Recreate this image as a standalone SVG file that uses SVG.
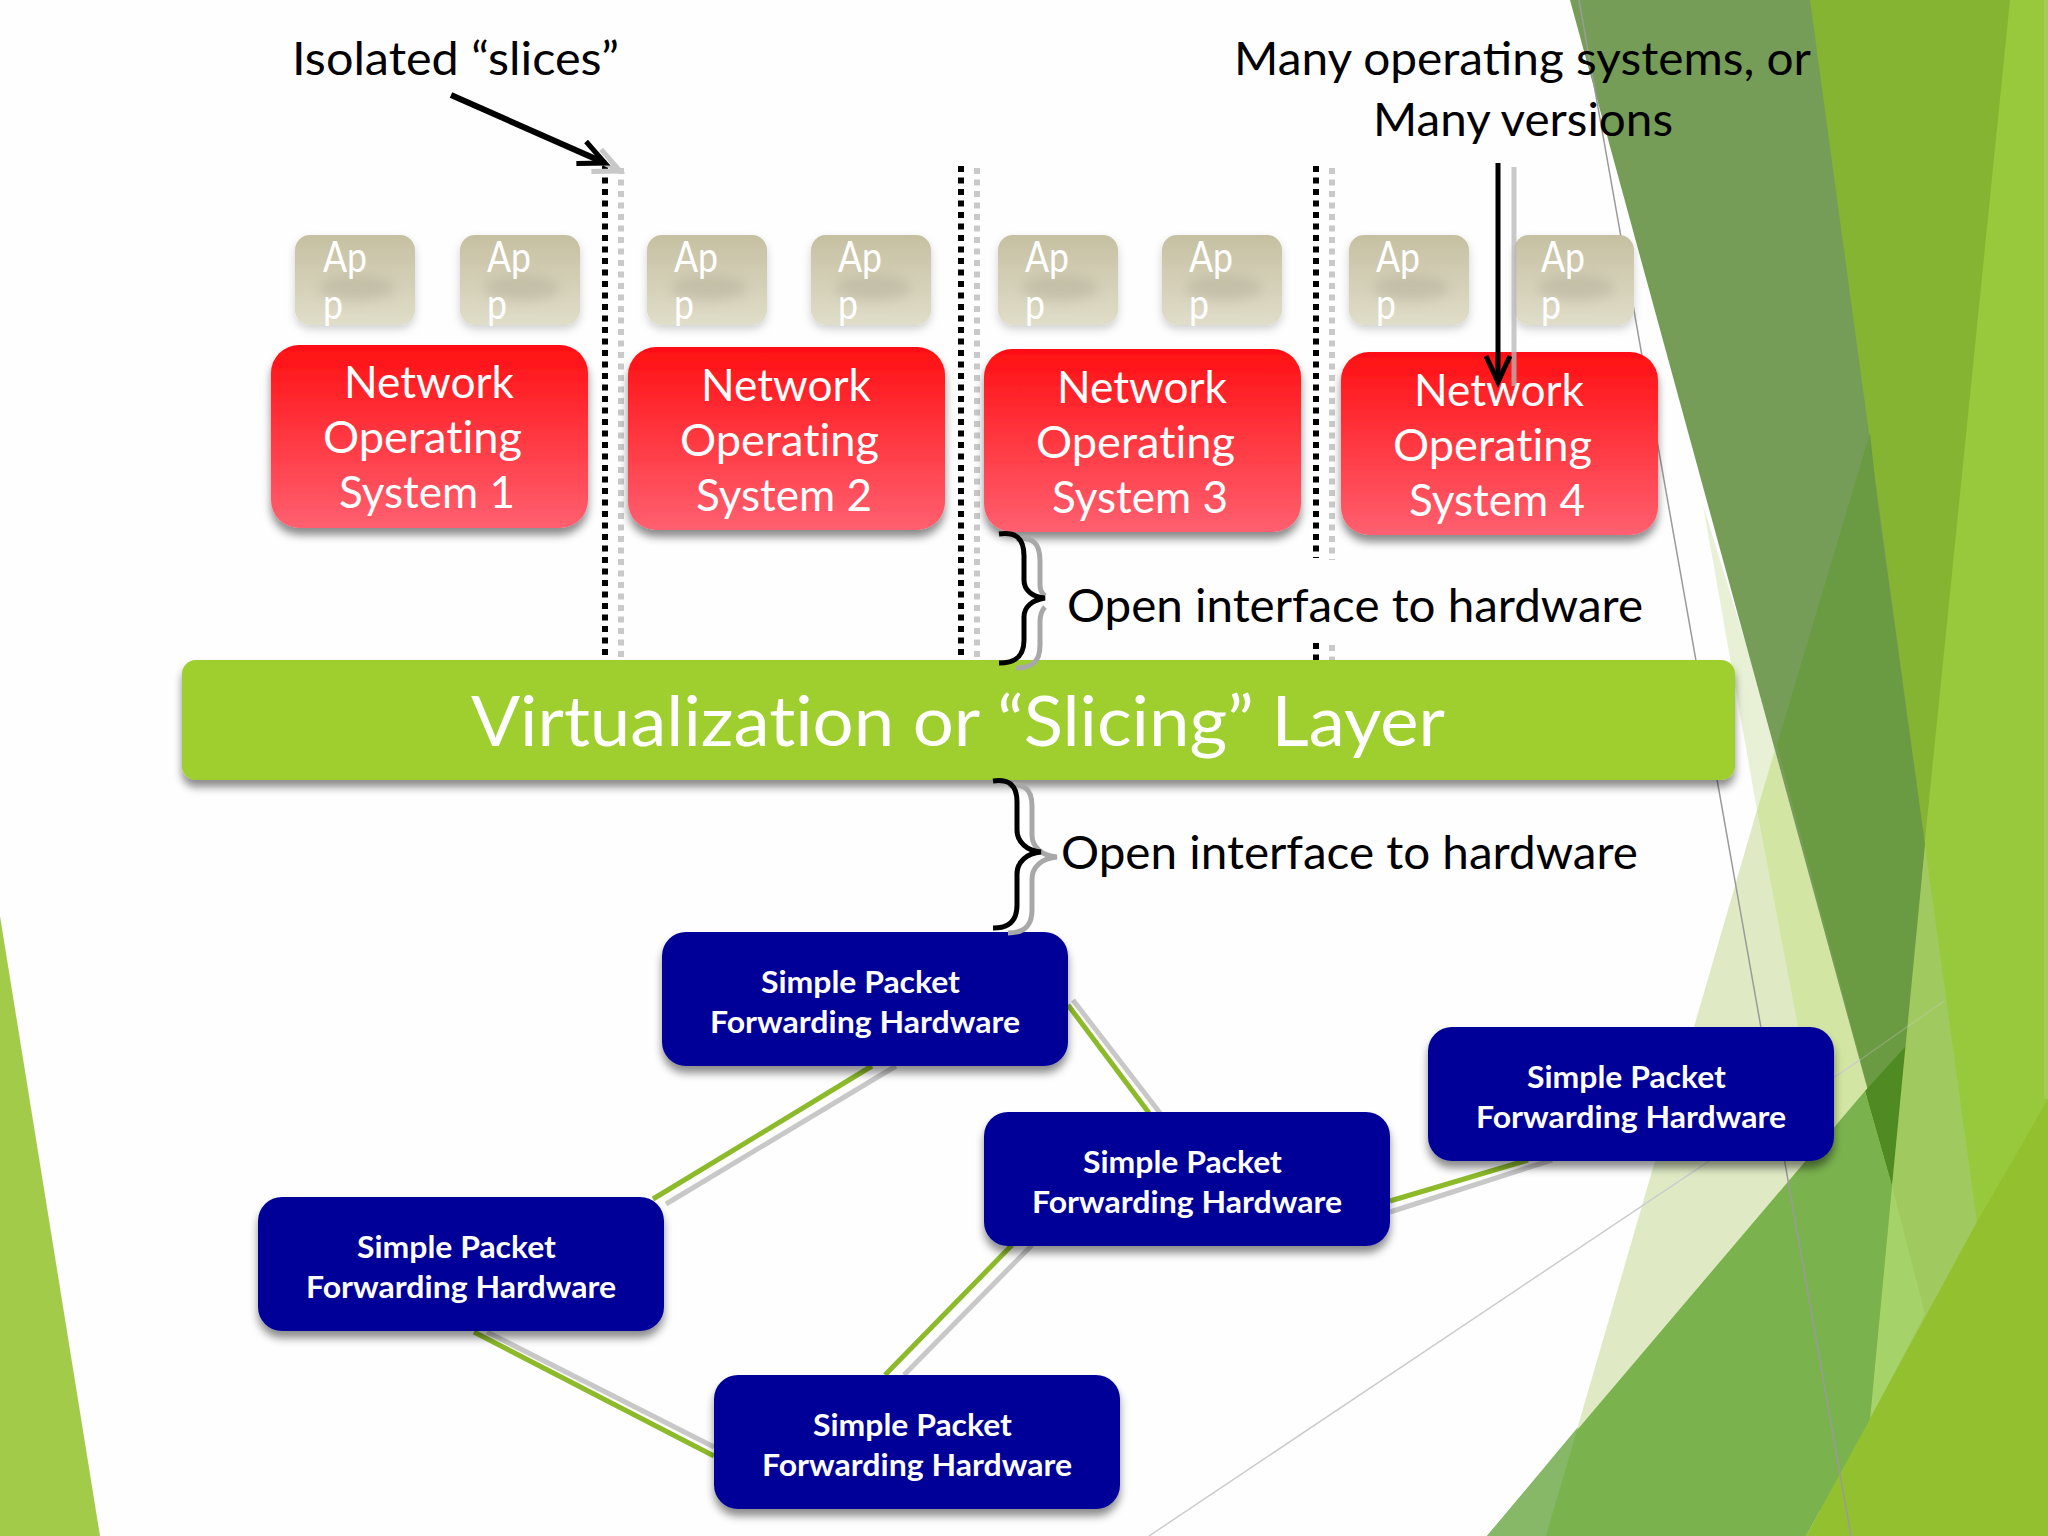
<svg xmlns="http://www.w3.org/2000/svg" width="2048" height="1536" viewBox="0 0 2048 1536">
<style>
text{font-family:"Lato","Liberation Sans",sans-serif}
.ann{font-size:47px;fill:#000}
.nos{font-size:44px;fill:#fff;font-variant-ligatures:none}
.app{font-size:43px;fill:#fff}
.hw{font-size:31px;font-weight:700;fill:#fff;font-variant-ligatures:none}
.appbox{fill:url(#appGrad);filter:url(#softShadow)}
.nosbox{fill:url(#redGrad);filter:url(#shadow)}
.hwbox{fill:#000099;filter:url(#shadow)}
.ghost{fill:#a5a08a;opacity:.35;filter:url(#blur)}
.bk{stroke:#000;stroke-width:6;stroke-dasharray:6 5.5;fill:none}
.gy{stroke:#c9c9c9;stroke-width:6;stroke-dasharray:6 5.5;fill:none}
.lg{stroke:#c8c8c8;stroke-width:5;fill:none}
.lk{stroke:#8cba2a;stroke-width:5;fill:none}
.br{stroke:#000;stroke-width:5;fill:none}
.brg{stroke:#a8a8a8;stroke-width:5;fill:none}
</style>
<defs>
<linearGradient id="redGrad" x1="0" y1="0" x2="0" y2="1"><stop offset="0" stop-color="#ff0f12"/><stop offset="1" stop-color="#ff6070"/></linearGradient>
<linearGradient id="appGrad" x1="0" y1="0" x2="0" y2="1"><stop offset="0" stop-color="#c6c0a2"/><stop offset="1" stop-color="#e0ddc9"/></linearGradient>
<filter id="shadow" x="-10%" y="-20%" width="120%" height="140%"><feDropShadow dx="0" dy="7" stdDeviation="4" flood-color="#000" flood-opacity=".45"/></filter>
<filter id="softShadow" x="-10%" y="-20%" width="120%" height="140%"><feDropShadow dx="0" dy="4" stdDeviation="4" flood-color="#000" flood-opacity=".18"/></filter>
<filter id="blur" x="-30%" y="-60%" width="160%" height="220%"><feGaussianBlur stdDeviation="6"/></filter>
<marker id="open" markerUnits="userSpaceOnUse" markerWidth="40" markerHeight="40" viewBox="-30 -20 40 40" refX="0" refY="0" orient="auto"><path d="M-26 -12L0 0L-26 12" fill="none" stroke="#000" stroke-width="5"/></marker>
<marker id="openG" markerUnits="userSpaceOnUse" markerWidth="40" markerHeight="40" viewBox="-30 -20 40 40" refX="0" refY="0" orient="auto"><path d="M-26 -12L0 0L-26 12" fill="none" stroke="#c8c8c8" stroke-width="5"/></marker>
</defs>

<g id="background">
<rect width="2048" height="1536" fill="#fefefe"/>
<polygon points="0,916 100,1536 0,1536" fill="#a3cb4a"/>
<polygon points="1800,0 2048,0 2048,1536 1800,1536" fill="#98c83c"/>
<polygon points="2044,0 2048,0 2048,1099 2044,1099" fill="#a2cd50"/>
<polygon points="1703,505 1757,810 1777,745" fill="#e8f0d5"/>
<polygon points="1757,810 1546,1536 1820,1536 1820,810" fill="#dfeac4"/>
<polygon points="1757,810 1775,750 1870,1096 1820,1143" fill="#d2e5a2"/>
<polygon points="1800,0 2010,0 1925,840 1800,840" fill="#85b432"/>
<polygon points="1570,0 1810,0 1925,845 1894,1186" fill="#769d58"/>
<polygon points="1777,745 1870,433 1877,500 1925,845 1894,1186" fill="#6a9a42"/>
<polygon points="1865,1091 1906,1046 1892,1186" fill="#4f8a22"/>
<polygon points="1925,845 1977,1222 1870,1419 1892,1186" fill="#a0ca60"/>
<polygon points="1892,1186 1925,1314 1870,1419" fill="#a6d26a"/>
<polygon points="1806,1536 1977,1222 2048,1099 2048,1536" fill="#93c02f"/>
<polygon points="1487,1536 1865,1091 1892,1186 1870,1419 1806,1536" fill="#7ab24e"/>
<polygon points="1487,1536 1546,1536 1578,1427" fill="#87b868"/>
<line x1="1579" y1="0" x2="1851" y2="1536" stroke="#9a9a9a" stroke-width="1.5"/>
<line x1="1149" y1="1536" x2="1860" y2="1060" stroke="#cccccc" stroke-width="1.5"/>
<line x1="1860" y1="1060" x2="1944" y2="1001" stroke="#cccccc" stroke-width="1.5" opacity=".3"/>
</g>

<g id="connectors">
<line class="lg" x1="896" y1="1066" x2="666" y2="1204"/>
<line class="lk" x1="872" y1="1066" x2="653" y2="1199"/>
<line class="lg" x1="1073" y1="1000" x2="1160" y2="1113"/>
<line class="lk" x1="1068" y1="1005" x2="1149" y2="1113"/>
<line class="lg" x1="1032" y1="1245" x2="904" y2="1375"/>
<line class="lk" x1="1012" y1="1245" x2="885" y2="1375"/>
<line class="lg" x1="1390" y1="1212" x2="1552" y2="1160"/>
<line class="lk" x1="1390" y1="1201" x2="1528" y2="1160"/>
<line class="lg" x1="487" y1="1332" x2="714" y2="1447"/>
<line class="lk" x1="474" y1="1332" x2="714" y2="1456"/>
<line class="gy" x1="621" y1="168" x2="621" y2="660"/>
<line class="bk" x1="605" y1="166" x2="605" y2="660"/>
<line class="gy" x1="977" y1="168" x2="977" y2="660"/>
<line class="bk" x1="961" y1="166" x2="961" y2="660"/>
<line class="gy" x1="1332" y1="168" x2="1332" y2="560"/>
<line class="bk" x1="1316" y1="166" x2="1316" y2="558"/>
<line class="gy" x1="1332" y1="645" x2="1332" y2="662"/>
<line class="bk" x1="1316" y1="643" x2="1316" y2="660"/>
</g>

<g id="app1"><rect class="appbox" x="295" y="235" width="120" height="90" rx="15"/><ellipse class="ghost" cx="357" cy="288" rx="38" ry="13"/><text class="app" x="323" y="272" textLength="44" lengthAdjust="spacingAndGlyphs">Ap</text><text class="app" x="323" y="319" textLength="20" lengthAdjust="spacingAndGlyphs">p</text></g>
<g id="app2"><rect class="appbox" x="460" y="235" width="120" height="90" rx="15"/><ellipse class="ghost" cx="522" cy="288" rx="38" ry="13"/><text class="app" x="487" y="272" textLength="44" lengthAdjust="spacingAndGlyphs">Ap</text><text class="app" x="487" y="319" textLength="20" lengthAdjust="spacingAndGlyphs">p</text></g>
<g id="app3"><rect class="appbox" x="647" y="235" width="120" height="90" rx="15"/><ellipse class="ghost" cx="709" cy="288" rx="38" ry="13"/><text class="app" x="674" y="272" textLength="44" lengthAdjust="spacingAndGlyphs">Ap</text><text class="app" x="674" y="319" textLength="20" lengthAdjust="spacingAndGlyphs">p</text></g>
<g id="app4"><rect class="appbox" x="811" y="235" width="120" height="90" rx="15"/><ellipse class="ghost" cx="873" cy="288" rx="38" ry="13"/><text class="app" x="838" y="272" textLength="44" lengthAdjust="spacingAndGlyphs">Ap</text><text class="app" x="838" y="319" textLength="20" lengthAdjust="spacingAndGlyphs">p</text></g>
<g id="app5"><rect class="appbox" x="998" y="235" width="120" height="90" rx="15"/><ellipse class="ghost" cx="1060" cy="288" rx="38" ry="13"/><text class="app" x="1025" y="272" textLength="44" lengthAdjust="spacingAndGlyphs">Ap</text><text class="app" x="1025" y="319" textLength="20" lengthAdjust="spacingAndGlyphs">p</text></g>
<g id="app6"><rect class="appbox" x="1162" y="235" width="120" height="90" rx="15"/><ellipse class="ghost" cx="1224" cy="288" rx="38" ry="13"/><text class="app" x="1189" y="272" textLength="44" lengthAdjust="spacingAndGlyphs">Ap</text><text class="app" x="1189" y="319" textLength="20" lengthAdjust="spacingAndGlyphs">p</text></g>
<g id="app7"><rect class="appbox" x="1349" y="235" width="120" height="90" rx="15"/><ellipse class="ghost" cx="1411" cy="288" rx="38" ry="13"/><text class="app" x="1376" y="272" textLength="44" lengthAdjust="spacingAndGlyphs">Ap</text><text class="app" x="1376" y="319" textLength="20" lengthAdjust="spacingAndGlyphs">p</text></g>
<g id="app8"><rect class="appbox" x="1514" y="235" width="120" height="90" rx="15"/><ellipse class="ghost" cx="1576" cy="288" rx="38" ry="13"/><text class="app" x="1541" y="272" textLength="44" lengthAdjust="spacingAndGlyphs">Ap</text><text class="app" x="1541" y="319" textLength="20" lengthAdjust="spacingAndGlyphs">p</text></g>

<g id="nos1"><rect class="nosbox" x="271" y="345" width="317" height="183" rx="28"/><text class="nos" x="344" y="398" textLength="170" lengthAdjust="spacingAndGlyphs">Network</text><text class="nos" x="323" y="453" textLength="199" lengthAdjust="spacingAndGlyphs">Operating</text><text class="nos" x="339" y="508" textLength="176" lengthAdjust="spacingAndGlyphs">System 1</text></g>
<g id="nos2"><rect class="nosbox" x="628" y="347" width="317" height="183" rx="28"/><text class="nos" x="701" y="401" textLength="170" lengthAdjust="spacingAndGlyphs">Network</text><text class="nos" x="680" y="456" textLength="199" lengthAdjust="spacingAndGlyphs">Operating</text><text class="nos" x="696" y="511" textLength="176" lengthAdjust="spacingAndGlyphs">System 2</text></g>
<g id="nos3"><rect class="nosbox" x="984" y="349" width="317" height="183" rx="28"/><text class="nos" x="1057" y="403" textLength="170" lengthAdjust="spacingAndGlyphs">Network</text><text class="nos" x="1036" y="458" textLength="199" lengthAdjust="spacingAndGlyphs">Operating</text><text class="nos" x="1052" y="513" textLength="176" lengthAdjust="spacingAndGlyphs">System 3</text></g>
<g id="nos4"><rect class="nosbox" x="1341" y="352" width="317" height="183" rx="28"/><text class="nos" x="1414" y="406" textLength="170" lengthAdjust="spacingAndGlyphs">Network</text><text class="nos" x="1393" y="461" textLength="199" lengthAdjust="spacingAndGlyphs">Operating</text><text class="nos" x="1409" y="516" textLength="176" lengthAdjust="spacingAndGlyphs">System 4</text></g>

<g id="slicing-layer"><rect x="182" y="660" width="1553" height="120" rx="14" fill="#9fcf2e" filter="url(#shadow)"/><text x="471" y="746" font-size="70" fill="#fff" style="font-variant-ligatures:none" textLength="974" lengthAdjust="spacingAndGlyphs">Virtualization or “Slicing” Layer</text></g>

<g id="hw1"><rect class="hwbox" x="662" y="932" width="406" height="134" rx="24"/><text class="hw" x="761" y="993" textLength="199" lengthAdjust="spacingAndGlyphs">Simple Packet</text><text class="hw" x="710" y="1033" textLength="310" lengthAdjust="spacingAndGlyphs">Forwarding Hardware</text></g>
<g id="hw2"><rect class="hwbox" x="984" y="1112" width="406" height="134" rx="24"/><text class="hw" x="1083" y="1173" textLength="199" lengthAdjust="spacingAndGlyphs">Simple Packet</text><text class="hw" x="1032" y="1213" textLength="310" lengthAdjust="spacingAndGlyphs">Forwarding Hardware</text></g>
<g id="hw3"><rect class="hwbox" x="1428" y="1027" width="406" height="134" rx="24"/><text class="hw" x="1527" y="1088" textLength="199" lengthAdjust="spacingAndGlyphs">Simple Packet</text><text class="hw" x="1476" y="1128" textLength="310" lengthAdjust="spacingAndGlyphs">Forwarding Hardware</text></g>
<g id="hw4"><rect class="hwbox" x="258" y="1197" width="406" height="134" rx="24"/><text class="hw" x="357" y="1258" textLength="199" lengthAdjust="spacingAndGlyphs">Simple Packet</text><text class="hw" x="306" y="1298" textLength="310" lengthAdjust="spacingAndGlyphs">Forwarding Hardware</text></g>
<g id="hw5"><rect class="hwbox" x="714" y="1375" width="406" height="134" rx="24"/><text class="hw" x="813" y="1436" textLength="199" lengthAdjust="spacingAndGlyphs">Simple Packet</text><text class="hw" x="762" y="1476" textLength="310" lengthAdjust="spacingAndGlyphs">Forwarding Hardware</text></g>

<g id="annotations">
<line x1="458" y1="99" x2="620" y2="171" stroke="#c8c8c8" stroke-width="4" marker-end="url(#openG)"/>
<line x1="451" y1="95" x2="605" y2="163" stroke="#000" stroke-width="6" marker-end="url(#open)"/>
<line x1="1514" y1="167" x2="1514" y2="386" stroke="#b8b8b8" stroke-width="5" opacity=".75"/>
<line x1="1498" y1="163" x2="1498" y2="382" stroke="#000" stroke-width="5" marker-end="url(#open)"/>
<path class="brg" d="M1016 539C1032 537 1040 542 1040 561L1040 585Q1040 592 1045 596M1045 607Q1040 612 1040 622L1040 645C1040 662 1032 668 1016 668"/>
<path class="br" d="M999 534C1015 532 1024 537 1024 556L1024 580C1024 590 1032 597 1045 598C1032 600 1024 607 1024 617L1024 640C1024 657 1015 663 999 663"/>
<path class="brg" d="M1008 785C1023 783 1032 788 1032 806L1032 835C1032 847 1042 856 1057 857C1042 858 1032 867 1032 879L1032 910C1032 927 1023 933 1008 933"/>
<path class="br" d="M993 781C1008 779 1017 784 1017 802L1017 830C1017 842 1027 851 1041 852C1027 853 1017 862 1017 874L1017 905C1017 922 1008 928 993 928"/>
<text class="ann" x="292" y="75" textLength="327" lengthAdjust="spacingAndGlyphs">Isolated “slices”</text>
<text class="ann" x="1234" y="75" textLength="577" lengthAdjust="spacingAndGlyphs">Many operating systems, or</text>
<text class="ann" x="1373" y="136" textLength="300" lengthAdjust="spacingAndGlyphs">Many versions</text>
<text class="ann" x="1067" y="622" textLength="576" lengthAdjust="spacingAndGlyphs">Open interface to hardware</text>
<text class="ann" x="1061" y="869" textLength="577" lengthAdjust="spacingAndGlyphs">Open interface to hardware</text>
</g>
</svg>
